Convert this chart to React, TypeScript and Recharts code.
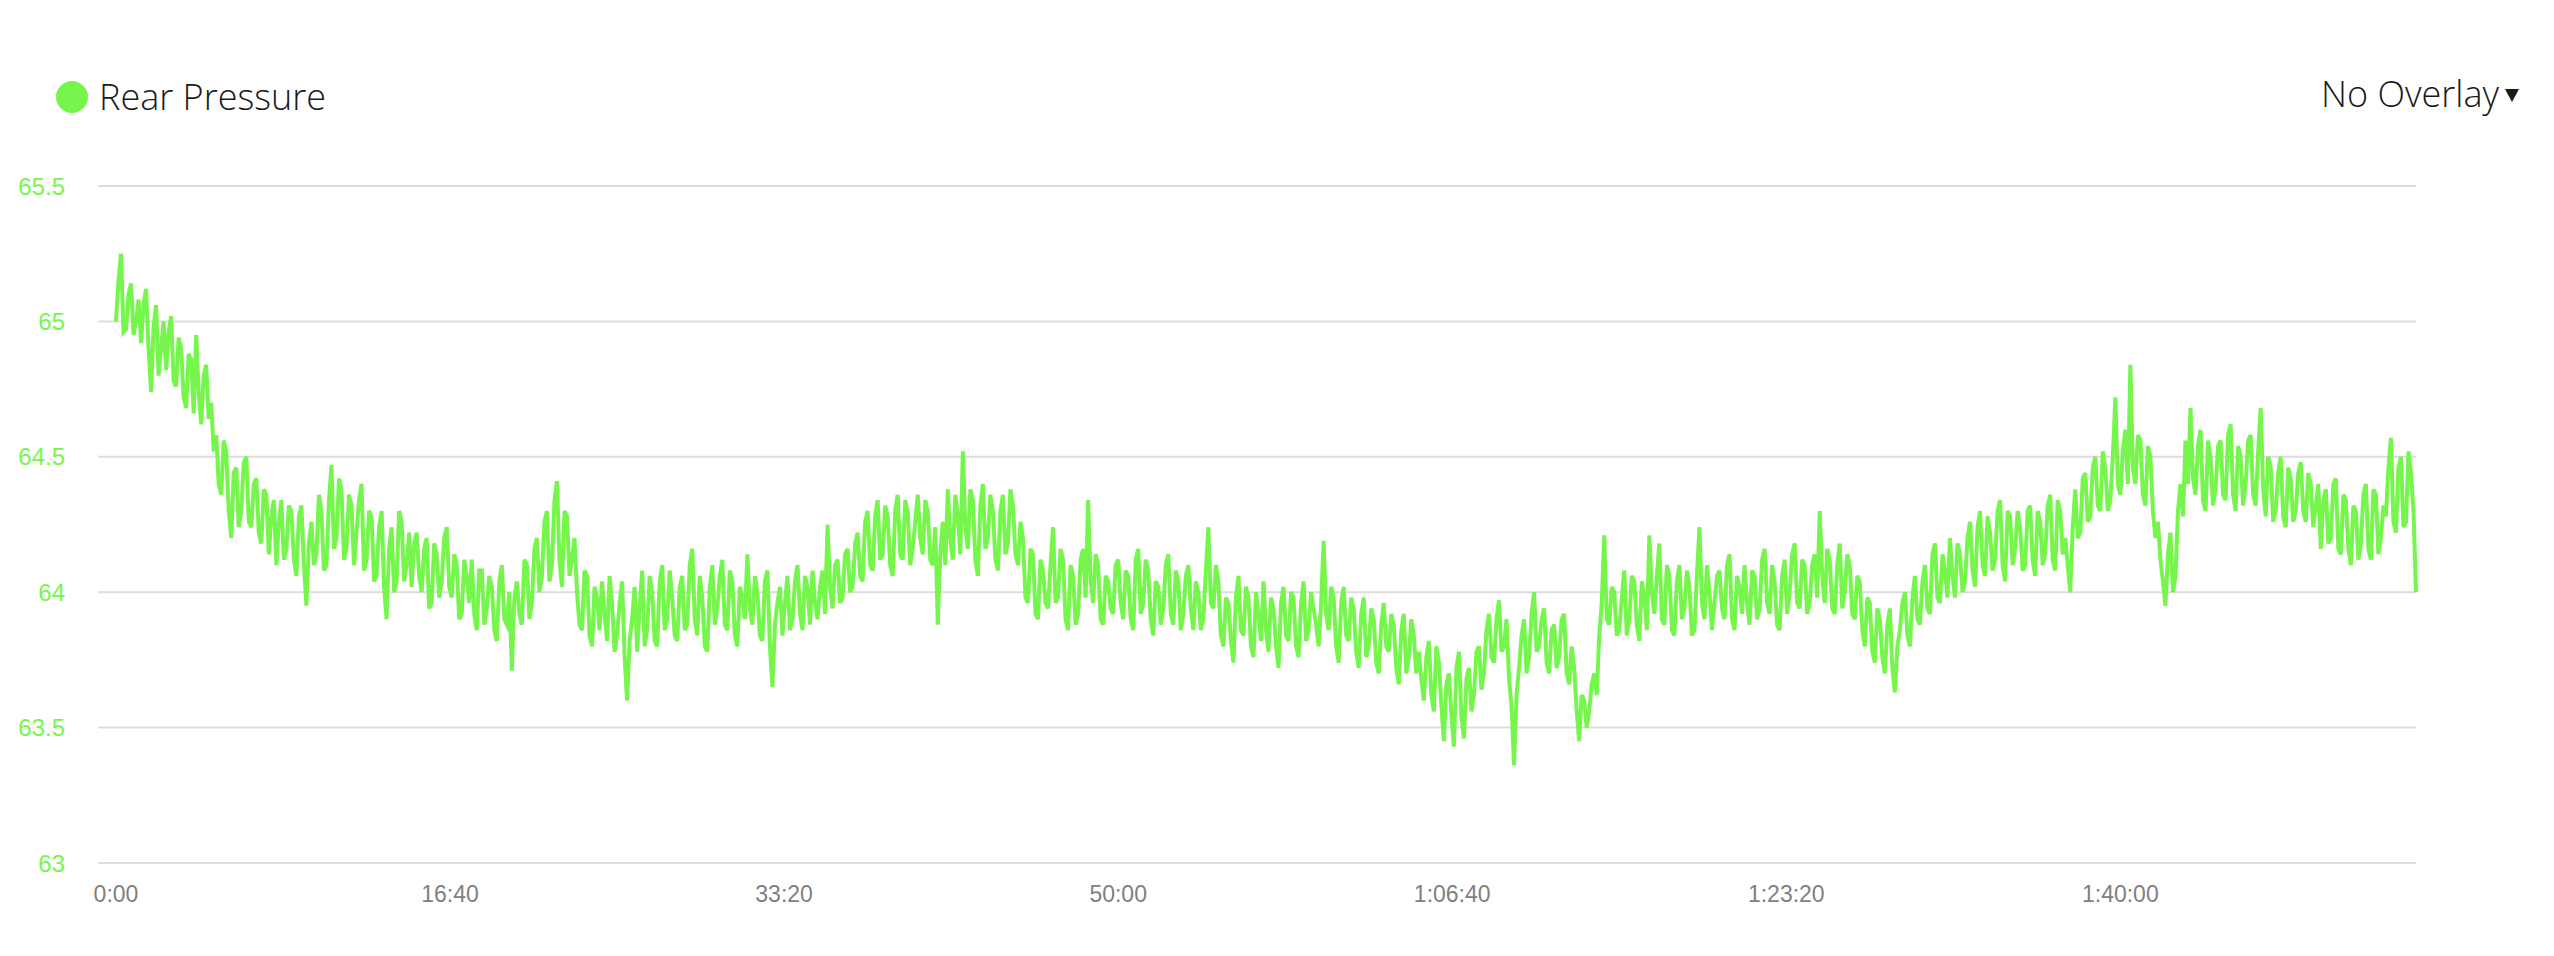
import React from "react"
import { LineChart, Line, XAxis, YAxis, CartesianGrid } from "recharts"

const SERIES_NAME = "Rear Pressure"
const OVERLAY_LABEL = "No Overlay"

// readings every 15 s
const SAMPLE_STEP_S = 15

const rearPressure: number[] = [
  65.0, 65.25, 64.97, 65.14, 65.0, 64.92, 65.12, 64.74, 65.06, 64.9, 64.82, 65.02, 64.76, 64.9, 64.68, 64.86, 64.95, 64.62, 64.84, 64.7,
  64.58, 64.36, 64.52, 64.2, 64.46, 64.3, 64.5, 64.24, 64.42, 64.18, 64.36, 64.28, 64.1, 64.34, 64.16, 64.3, 64.06, 64.32, 63.95, 64.26,
  64.14, 64.3, 64.1, 64.47, 64.2, 64.38, 64.16, 64.32, 64.22, 64.4, 64.12, 64.28, 64.06, 64.3, 63.9, 64.24, 64.04, 64.26, 64.1, 64.02,
  64.22, 64.0, 64.2, 63.96, 64.14, 64.04, 64.24, 63.98, 64.1, 63.92, 64.06, 64.12, 63.86, 64.08, 63.94, 64.02, 63.82, 64.1, 63.88, 63.71,
  64.04, 63.88, 64.1, 63.96, 64.2, 64.06, 64.3, 64.1, 64.41, 64.02, 64.28, 64.12, 64.0, 63.86, 64.06, 63.8, 63.98, 64.04, 63.82, 63.96,
  63.84, 64.04, 63.6, 63.9, 63.78, 64.08, 63.86, 64.0, 63.8, 64.1, 63.9, 63.98, 63.82, 64.06, 63.88, 64.16, 63.84, 63.98, 63.78, 64.1,
  63.94, 64.12, 63.86, 64.04, 63.8, 63.98, 64.14, 63.88, 64.0, 63.82, 64.08, 63.65, 63.96, 63.84, 64.06, 63.9, 64.1, 63.86, 64.02, 64.08,
  63.9, 64.08, 64.25, 63.94, 64.12, 63.98, 64.16, 64.02, 64.22, 64.04, 64.3, 64.08, 64.34, 64.14, 64.28, 64.06, 64.36, 64.12, 64.3, 64.16,
  64.36, 64.14, 64.3, 64.1, 63.88, 64.26, 64.38, 64.12, 64.28, 64.52, 64.16, 64.34, 64.06, 64.4, 64.2, 64.3, 64.08, 64.36, 64.18, 64.32,
  64.1, 64.2, 63.96, 64.14, 63.9, 64.08, 63.94, 64.24, 63.98, 64.12, 63.86, 64.06, 63.92, 64.16, 64.34, 63.96, 64.1, 63.88, 64.04, 63.92,
  64.12, 63.9, 64.06, 63.86, 64.16, 63.96, 64.08, 63.84, 64.02, 63.94, 64.14, 63.88, 64.04, 63.92, 64.1, 63.86, 64.0, 63.9, 64.24, 63.94,
  64.04, 63.8, 63.96, 63.74, 64.06, 63.84, 63.98, 63.76, 63.92, 64.04, 63.78, 63.94, 63.72, 64.02, 63.82, 63.98, 63.76, 64.04, 63.86, 63.94,
  63.8, 64.19, 63.86, 63.98, 63.74, 64.02, 63.82, 63.94, 63.72, 63.98, 63.8, 63.9, 63.7, 63.96, 63.78, 63.88, 63.66, 63.92, 63.76, 63.84,
  63.78, 63.6, 63.82, 63.56, 63.74, 63.45, 63.7, 63.43, 63.78, 63.46, 63.72, 63.62, 63.8, 63.7, 63.92, 63.74, 63.97, 63.8, 63.68, 63.36,
  63.72, 63.9, 63.76, 64.0, 63.8, 63.94, 63.7, 63.88, 63.76, 63.92, 63.66, 63.72, 63.45, 63.6, 63.56, 63.7, 63.84, 64.21, 63.88, 64.0,
  63.86, 64.08, 63.9, 64.04, 63.82, 63.98, 64.21, 63.92, 64.18, 63.88, 64.06, 63.84, 64.1, 63.94, 64.02, 63.86, 64.24, 63.9, 64.0, 63.96,
  64.08, 63.9, 64.14, 63.86, 64.02, 64.1, 63.88, 64.06, 63.94, 64.16, 63.92, 64.04, 63.86, 64.12, 64.0, 64.18, 63.94, 64.1, 63.96, 64.14,
  64.3, 63.96, 64.12, 63.92, 64.18, 64.0, 64.1, 63.9, 64.04, 63.8, 63.96, 63.74, 63.9, 63.7, 63.94, 63.63, 63.86, 64.0, 63.8, 64.06,
  63.88, 64.1, 63.92, 64.18, 63.96, 64.08, 64.2, 63.98, 64.14, 64.04, 64.26, 64.02, 64.3, 64.06, 64.22, 64.12, 64.34, 64.04, 64.28, 64.16,
  64.24, 64.1, 64.32, 64.06, 64.26, 64.14, 64.36, 64.08, 64.3, 64.2, 64.0, 64.38, 64.22, 64.44, 64.28, 64.5, 64.3, 64.46, 64.34, 64.72,
  64.36, 64.6, 64.84, 64.4, 64.56, 64.32, 64.5, 64.2, 64.12, 63.95, 64.22, 64.06, 64.4, 64.56, 64.68, 64.36, 64.6, 64.3, 64.5, 64.38,
  64.56, 64.34, 64.62, 64.3, 64.5, 64.4, 64.58, 64.32, 64.68, 64.28, 64.46, 64.3, 64.5, 64.24, 64.42, 64.3, 64.48, 64.26, 64.4, 64.32,
  64.16, 64.38, 64.2, 64.42, 64.14, 64.34, 64.1, 64.3, 64.18, 64.4, 64.12, 64.36, 64.2, 64.28, 64.57, 64.22, 64.5, 64.26, 64.44, 64.0,
]

// in-between readings, half a step after each reading above
const rearPressureMid: number[] = [
  65.15, 64.96, 65.1, 64.95, 65.08, 65.06, 64.9, 64.98, 64.8, 65.0, 64.96, 64.78, 64.94, 64.72, 64.88, 64.66, 64.74, 64.8, 64.64, 64.52,
  64.4, 64.56, 64.3, 64.44, 64.24, 64.48, 64.26, 64.4, 64.22, 64.38, 64.14, 64.34, 64.26, 64.12, 64.32, 64.12, 64.28, 64.1, 64.18, 64.1,
  64.36, 64.08, 64.34, 64.16, 64.42, 64.12, 64.36, 64.1, 64.34, 64.08, 64.3, 64.04, 64.24, 64.02, 64.16, 64.0, 64.3, 64.04, 64.22, 64.18,
  64.06, 64.16, 63.94, 64.18, 63.98, 64.2, 64.02, 64.14, 63.9, 64.12, 63.96, 63.92, 64.08, 63.88, 64.06, 63.86, 64.04, 63.9, 64.0, 63.98,
  63.92, 64.12, 63.9, 64.16, 64.0, 64.26, 64.04, 64.34, 64.12, 64.3, 64.06, 64.2, 63.88, 64.08, 63.84, 64.02, 63.86, 63.92, 64.06, 63.78,
  63.96, 63.76, 63.82, 64.02, 63.94, 63.8, 64.06, 63.82, 64.04, 63.86, 64.08, 63.84, 64.02, 63.86, 64.1, 63.9, 64.06, 63.8, 64.02, 63.88,
  64.06, 63.88, 64.08, 63.84, 64.02, 63.9, 63.94, 64.06, 63.84, 64.04, 63.8, 63.88, 64.02, 63.96, 63.86, 64.04, 63.92, 64.06, 63.88, 63.96,
  64.02, 63.92, 64.02, 64.1, 63.96, 64.14, 64.0, 64.18, 64.06, 64.26, 64.1, 64.28, 64.12, 64.32, 64.1, 64.3, 64.14, 64.34, 64.1, 64.26,
  64.2, 64.34, 64.12, 64.24, 64.14, 64.1, 64.2, 64.36, 64.14, 64.24, 64.38, 64.12, 64.32, 64.16, 64.36, 64.12, 64.3, 64.14, 64.38, 64.14,
  64.26, 63.98, 64.16, 63.92, 64.12, 63.96, 64.1, 63.96, 64.16, 63.9, 64.1, 63.88, 64.12, 63.98, 64.04, 64.14, 63.9, 64.06, 63.94, 64.1,
  63.96, 64.08, 63.9, 64.12, 63.92, 64.12, 63.9, 64.04, 63.88, 64.1, 63.92, 64.08, 63.86, 64.06, 63.94, 64.04, 63.86, 64.08, 63.96, 64.1,
  63.84, 63.98, 63.82, 63.98, 63.86, 64.02, 63.8, 64.0, 63.82, 63.86, 63.98, 63.8, 63.96, 63.84, 64.0, 63.8, 63.96, 63.82, 64.0, 63.88,
  63.96, 63.92, 64.02, 63.8, 63.96, 63.84, 63.98, 63.78, 63.92, 63.76, 63.94, 63.74, 63.88, 63.8, 63.92, 63.72, 63.86, 63.7, 63.9, 63.7,
  63.68, 63.76, 63.62, 63.8, 63.58, 63.66, 63.55, 63.72, 63.54, 63.68, 63.56, 63.78, 63.64, 63.86, 63.76, 63.9, 63.78, 63.9, 63.58, 63.62,
  63.84, 63.7, 63.92, 63.78, 63.9, 63.74, 63.86, 63.72, 63.9, 63.7, 63.8, 63.56, 63.62, 63.5, 63.66, 63.62, 63.96, 63.9, 64.02, 63.84,
  63.98, 63.84, 64.06, 63.88, 64.04, 63.86, 64.0, 64.06, 63.9, 64.1, 63.86, 64.04, 63.9, 64.08, 63.84, 64.06, 63.96, 64.1, 63.86, 64.06,
  63.94, 64.1, 63.9, 64.06, 63.92, 63.96, 64.08, 63.9, 64.12, 63.96, 64.1, 63.88, 64.06, 63.92, 64.14, 63.96, 64.12, 63.92, 64.1, 63.98,
  64.06, 64.16, 63.94, 64.1, 63.94, 64.14, 63.92, 64.06, 63.86, 63.98, 63.78, 63.94, 63.76, 63.88, 63.72, 63.8, 63.96, 63.84, 63.98, 63.9,
  64.04, 63.94, 64.14, 63.98, 64.14, 63.98, 64.06, 64.18, 64.0, 64.2, 64.08, 64.24, 64.1, 64.28, 64.08, 64.3, 64.1, 64.3, 64.1, 64.3,
  64.08, 64.3, 64.12, 64.3, 64.1, 64.32, 64.12, 64.34, 64.14, 64.1, 64.24, 64.2, 64.42, 64.26, 64.46, 64.32, 64.52, 64.3, 64.5, 64.4,
  64.52, 64.4, 64.46, 64.58, 64.36, 64.54, 64.3, 64.26, 64.04, 64.14, 64.0, 64.3, 64.28, 64.4, 64.42, 64.54, 64.34, 64.56, 64.32, 64.54,
  64.36, 64.58, 64.36, 64.54, 64.32, 64.56, 64.36, 64.52, 64.38, 64.5, 64.26, 64.44, 64.28, 64.46, 64.26, 64.44, 64.3, 64.44, 64.24, 64.4,
  64.34, 64.18, 64.4, 64.16, 64.36, 64.16, 64.32, 64.12, 64.36, 64.16, 64.38, 64.14, 64.32, 64.46, 64.26, 64.46, 64.24, 64.52, 64.3,
]

const xTicks = [0, 1000, 2000, 3000, 4000, 5000, 6000]
const yTicks = [63, 63.5, 64, 64.5, 65, 65.5]

const GREEN = "#76f64d"

const data: { t: number; pressure: number }[] = []
rearPressure.forEach((v, i) => {
  data.push({ t: i * SAMPLE_STEP_S, pressure: v })
  if (i < rearPressureMid.length) data.push({ t: (i + 0.5) * SAMPLE_STEP_S, pressure: rearPressureMid[i] })
})
const lastT = data[data.length - 1].t

// seconds -> "m:ss" or "h:mm:ss"
function fmtTime(s: number) {
  const h = Math.floor(s / 3600)
  const m = Math.floor((s % 3600) / 60)
  const sec = s % 60
  const pad = (n: number) => String(n).padStart(2, "0")
  return h > 0 ? `${h}:${pad(m)}:${pad(sec)}` : `${m}:${pad(sec)}`
}

const headerFont: React.CSSProperties = {
  position: "absolute",
  fontFamily: "'Open Sans', sans-serif",
  fontWeight: 300,
  fontSize: 36,
  color: "#1a1a1a",
  whiteSpace: "nowrap",
}

export default function App() {
  return (
    <div style={{ position: "absolute", left: 0, top: 0, width: 2554, height: 956, background: "#fff" }}>
      {/* Series legend */}
      <div style={{ position: "absolute", left: 56, top: 81, width: 32, height: 32, borderRadius: "50%", background: GREEN }} />
      <div style={{ ...headerFont, left: 99, top: 72 }}>{SERIES_NAME}</div>

      {/* Overlay picker */}
      <div style={{ ...headerFont, left: 2321, top: 69, display: "flex", alignItems: "center" }}>
        <span>{OVERLAY_LABEL}</span>
        <svg width="14" height="13" style={{ marginLeft: 6, marginTop: 4 }}>
          <polygon points="0,0 14,0 7,13" fill="#1a1a1a" />
        </svg>
      </div>

      <LineChart width={2554} height={956} data={data} margin={{ top: 186, right: 138, bottom: 33, left: 0 }}>
        <CartesianGrid vertical={false} stroke="#dddddd" strokeWidth={2} />
        <XAxis
          dataKey="t"
          type="number"
          domain={[0, lastT]}
          ticks={xTicks}
          tickFormatter={fmtTime}
          padding={{ left: 18, right: 0 }}
          axisLine={false}
          tickLine={false}
          tickSize={0}
          tickMargin={23}
          height={60}
          tick={{ fill: "#808080", fontSize: 23, fontFamily: "'Liberation Sans', Arial, sans-serif" }}
        />
        <YAxis
          type="number"
          domain={[63, 65.5]}
          ticks={yTicks}
          width={98}
          axisLine={false}
          tickLine={false}
          tickSize={0}
          tickMargin={33}
          tick={{ fill: GREEN, fontSize: 24, fontFamily: "'Liberation Sans', Arial, sans-serif" }}
        />
        <Line
          type="linear"
          dataKey="pressure"
          stroke={GREEN}
          strokeWidth={4}
          dot={false}
          isAnimationActive={false}
        />
      </LineChart>
    </div>
  )
}
